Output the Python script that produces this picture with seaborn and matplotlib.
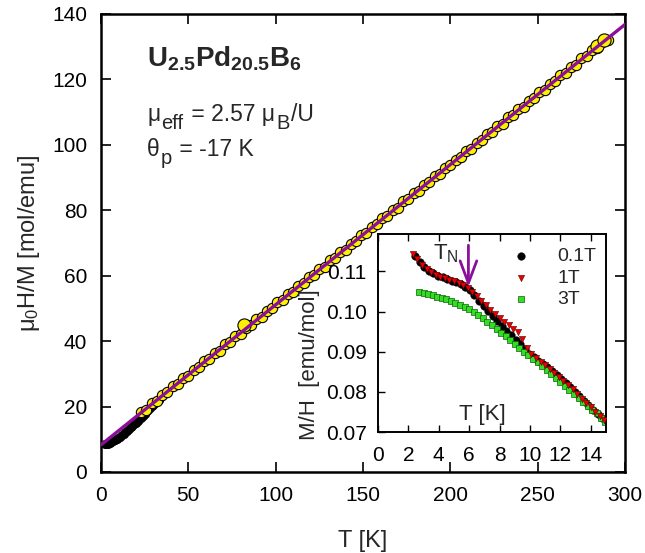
import matplotlib.pyplot as plt
import pandas as pd
import seaborn as sns
from matplotlib.ticker import FormatStrFormatter

# main panel: mu0 H / M vs T
T_low = [2, 3, 4, 5, 6, 7, 8, 9, 10, 11, 12, 13, 14, 15, 16, 17, 18, 19, 20,
         21, 22, 23, 24, 25, 26, 27, 28, 29, 30, 31, 32, 33, 34, 35]
inv_low = [8.5, 8.6, 8.7, 8.9, 9.1, 9.4, 9.7, 10.0, 10.4, 10.8, 11.2, 11.7, 12.1,
           12.6, 13.1, 13.6, 14.1, 14.6, 15.1, 15.6, 16.1, 16.6, 17.1, 17.7,
           18.3, 18.9, 19.5, 20.1, 20.6, 21.1, 21.6, 22.1, 22.6, 23.1]

T_main = [23, 26, 29, 32, 35, 38, 41, 44, 47, 50, 53, 56, 59, 62, 65, 68, 71, 74,
          77, 80, 83, 86, 89, 92, 95, 98, 101, 104, 107, 110, 113, 116, 119, 122,
          125, 128, 131, 134, 137, 140, 143, 146, 149, 152, 155, 158, 161, 164,
          167, 170, 173, 176, 179, 182, 185, 188, 191, 194, 197, 200, 203, 206,
          209, 212, 215, 218, 221, 224, 227, 230, 233, 236, 239, 242, 245, 248,
          251, 254, 257, 260, 263, 266, 269, 272, 275, 278, 281, 284, 287, 290]
inv_main = [18.4, 19.1, 21.0, 21.7, 23.6, 24.3, 26.2, 26.8, 28.7, 29.4, 31.3,
            32.0, 33.9, 34.6, 36.4, 37.1, 39.0, 39.7, 41.6, 42.3, 44.1, 44.8,
            46.7, 47.4, 49.3, 50.0, 51.9, 52.5, 54.4, 55.1, 57.0, 57.7, 59.6,
            60.3, 62.1, 62.8, 64.7, 65.4, 67.3, 68.0, 69.8, 70.5, 72.4, 73.1,
            75.0, 75.7, 77.6, 78.2, 80.1, 80.8, 82.7, 83.4, 85.3, 86.0, 87.8,
            88.5, 90.4, 91.1, 93.0, 93.7, 95.5, 96.2, 98.1, 98.8, 100.7, 101.4,
            103.3, 103.9, 105.8, 106.5, 108.4, 109.1, 111.0, 111.7, 113.5,
            114.2, 116.1, 116.8, 118.7, 119.4, 121.2, 121.9, 123.8, 124.5,
            126.4, 127.1, 129.0, 129.6, 131.5, 132.2]
T_big = [82, 284, 288]
inv_big = [44.9, 130.3, 132.0]

T_fit = [0, 300]
inv_fit = [8.3, 136.8]

# inset: M/H at low temperature
T_01 = [2.45, 2.75, 3.05, 3.35, 3.65, 3.95, 4.25, 4.55, 4.85, 5.15, 5.45, 5.75,
        6.05, 6.35, 6.65, 6.95, 7.25, 7.55, 7.85, 8.15, 8.45, 8.75, 9.05, 9.35,
        9.65, 9.95, 10.25, 10.55, 10.85, 11.15, 11.45, 11.75, 12.05, 12.35,
        12.65, 12.95, 13.25, 13.55, 13.85, 14.15, 14.45, 14.75]
mh_01 = [0.1138, 0.1124, 0.1111, 0.1101, 0.1095, 0.1089, 0.1085, 0.1081, 0.1077,
         0.1073, 0.1068, 0.1062, 0.1054, 0.1040, 0.1027, 0.1014, 0.1002, 0.0989,
         0.0976, 0.0964, 0.0952, 0.0941, 0.0929, 0.0918, 0.0906, 0.0895, 0.0886,
         0.0877, 0.0869, 0.0861, 0.0851, 0.0842, 0.0832, 0.0822, 0.0811, 0.0800,
         0.0789, 0.0777, 0.0767, 0.0756, 0.0746, 0.0736]

T_1 = [2.3, 2.6, 2.9, 3.2, 3.5, 3.8, 4.1, 4.4, 4.7, 5.0, 5.3, 5.6, 5.9, 6.2, 6.5,
       6.8, 7.1, 7.4, 7.7, 8.0, 8.3, 8.6, 8.9, 9.2, 9.5, 9.8, 10.1, 10.4, 10.7,
       11.0, 11.3, 11.6, 11.9, 12.2, 12.5, 12.8, 13.1, 13.4, 13.7, 14.0, 14.3,
       14.6, 14.9]
mh_1 = [0.1144, 0.1131, 0.1117, 0.1105, 0.1098, 0.1092, 0.1087, 0.1083, 0.1079,
        0.1075, 0.1071, 0.1066, 0.1059, 0.1049, 0.1038, 0.1027, 0.1016, 0.1005,
        0.0995, 0.0984, 0.0973, 0.0966, 0.0957, 0.0948, 0.0931, 0.0910, 0.0894,
        0.0884, 0.0875, 0.0866, 0.0856, 0.0847, 0.0837, 0.0827, 0.0817, 0.0806,
        0.0795, 0.0783, 0.0772, 0.0762, 0.0751, 0.0741, 0.0731]

T_3 = [2.7, 3.0, 3.3, 3.6, 3.9, 4.2, 4.5, 4.8, 5.1, 5.4, 5.7, 6.0, 6.3, 6.6, 6.9,
       7.2, 7.5, 7.8, 8.1, 8.4, 8.7, 9.0, 9.3, 9.6, 9.9, 10.2, 10.5, 10.8, 11.1,
       11.4, 11.7, 12.0, 12.3, 12.6, 12.9, 13.2, 13.5, 13.8, 14.1, 14.4, 14.7,
       14.95]
mh_3 = [0.1049, 0.1046, 0.1043, 0.1040, 0.1037, 0.1034, 0.1030, 0.1026, 0.1022,
        0.1017, 0.1012, 0.1007, 0.1000, 0.0992, 0.0983, 0.0975, 0.0966, 0.0956,
        0.0947, 0.0938, 0.0928, 0.0918, 0.0909, 0.0900, 0.0891, 0.0883, 0.0874,
        0.0864, 0.0855, 0.0845, 0.0835, 0.0825, 0.0815, 0.0805, 0.0795, 0.0785,
        0.0774, 0.0765, 0.0756, 0.0747, 0.0736, 0.0725]

T_N = 5.95
PURPLE = '#8C0F9C'

# annotation pieces: (text, fontsize, vertical shift in points)
mu_eff_parts = [('μ', 16.5, 0), ('eff', 14.5, -5.5), (' = 2.57 μ', 16.5, 0),
                ('B', 14.5, -5.5), ('/U', 16.5, 0)]
theta_parts = [('θ', 16.5, 0), ('p', 14.5, -5.5), (' = -17 K', 16.5, 0)]

sns.set_theme(style='ticks')
plt.rcParams['font.family'] = ['Liberation Sans', 'DejaVu Sans']
plt.rcParams['mathtext.fontset'] = 'custom'
plt.rcParams['mathtext.rm'] = 'Liberation Sans'
plt.rcParams['mathtext.it'] = 'Liberation Sans:italic'
plt.rcParams['mathtext.bf'] = 'Liberation Sans:bold'

W, H = 645, 553
fig = plt.figure(figsize=(6.45, 5.53), dpi=100)
ax = fig.add_axes([0.1566, 0.1465, 0.8124, 0.8282])


def chain_text(ax, x, y, parts):
    # write the pieces one after another on a shared baseline
    prev = ax.text(x, y, parts[0][0], transform=ax.transAxes,
                   fontsize=parts[0][1], ha='left', va='baseline')
    for txt, size, rise in parts[1:]:
        prev = ax.annotate(txt, xy=(1, y), xycoords=(prev, ax.transAxes),
                           xytext=(0.9, rise), textcoords='offset points',
                           fontsize=size, ha='left', va='baseline')


sns.scatterplot(x=T_low, y=inv_low, ax=ax, color='black', edgecolor='black',
                s=36, linewidth=0.5, zorder=2)
sns.scatterplot(x=T_main, y=inv_main, ax=ax, color='#FFF000', edgecolor='black',
                s=55, linewidth=0.8, zorder=2)
sns.scatterplot(x=T_big, y=inv_big, ax=ax, color='#FFF000', edgecolor='black',
                s=90, linewidth=0.8, zorder=2)
sns.lineplot(x=T_fit, y=inv_fit, ax=ax, color=PURPLE, lw=2.4, zorder=3)

ax.set_xlim(0, 300)
ax.set_ylim(0, 140)
ax.set_xticks(range(0, 301, 50))
ax.set_yticks(range(0, 141, 20))
ax.tick_params(direction='in', top=True, right=True, length=7, width=1.2,
               labelsize=15, pad=10, color='black', labelcolor='black')
for sp in ax.spines.values():
    sp.set_linewidth(1.8)
    sp.set_color('black')
ax.set_xlabel('T [K]', fontsize=17)
ax.set_ylabel('μ$_0$H/M [mol/emu]', fontsize=17)
ax.xaxis.set_label_coords(0.5, -0.126)
ax.yaxis.set_label_coords(-0.113, 0.5)

ax.text(0.088, 0.886, r'U$_{\mathbf{2.5}}$Pd$_{\mathbf{20.5}}$B$_{\mathbf{6}}$',
        transform=ax.transAxes, fontsize=20, fontweight='bold',
        va='baseline', ha='left')
chain_text(ax, 0.088, 0.766, mu_eff_parts)
chain_text(ax, 0.088, 0.689, theta_parts)

# inset
ax_in = fig.add_axes([0.586, 0.2188, 0.3535, 0.358])
sns.scatterplot(x=T_01, y=mh_01, ax=ax_in, color='black', edgecolor='black',
                marker='o', s=30, linewidth=0.3, label='0.1T', zorder=2)
sns.scatterplot(x=T_1, y=mh_1, ax=ax_in, color='#E80000', edgecolor='#600000',
                marker='v', s=20, linewidth=0.4, label='1T', zorder=3)
sns.scatterplot(x=T_3, y=mh_3, ax=ax_in, color='#33DD22', edgecolor='#106010',
                marker='s', s=16, linewidth=0.5, label='3T', zorder=2)

ax_in.set_xlim(0, 15)
ax_in.set_ylim(0.07, 0.1193)
ax_in.set_xticks(range(0, 15, 2))
ax_in.set_yticks([0.07, 0.08, 0.09, 0.10, 0.11])
ax_in.yaxis.set_major_formatter(FormatStrFormatter('%.2f'))
ax_in.tick_params(axis='x', direction='in', top=True, length=5, width=1,
                  labelsize=15, pad=10, color='black', labelcolor='black')
ax_in.tick_params(axis='y', direction='in', right=False, length=5, width=1,
                  labelsize=15, pad=8, color='black', labelcolor='black')
for sp in ax_in.spines.values():
    sp.set_linewidth(1.4)
    sp.set_color('black')
ax_in.set_xlabel('')
ax_in.set_ylabel('')
ax_in.text(0.46, 0.06, 'T [K]', transform=ax_in.transAxes, fontsize=16,
           ha='center', va='baseline')
fig.text(310 / W, 1 - 365 / H, 'M/H  [emu/mol]', rotation=90, fontsize=16,
         ha='center', va='center')
ax_in.text(0.241, 0.874, r'T$_{\mathregular{N}}$', transform=ax_in.transAxes,
           fontsize=16, ha='left', va='baseline')
ax_in.annotate('', xy=(T_N, 0.1061), xytext=(T_N, 0.1165),
               arrowprops=dict(arrowstyle='->,head_length=0.8,head_width=0.3',
                               color=PURPLE, lw=2, mutation_scale=20,
                               shrinkA=0, shrinkB=0))

ax_in.legend(loc='upper left', bbox_to_anchor=(0.583, 0.93), frameon=False,
             fontsize=14, handlelength=1.0, handletextpad=1.4, labelspacing=0.2,
             borderpad=0, borderaxespad=0, markerscale=1.0)

fig.savefig('out.png', dpi=100)
